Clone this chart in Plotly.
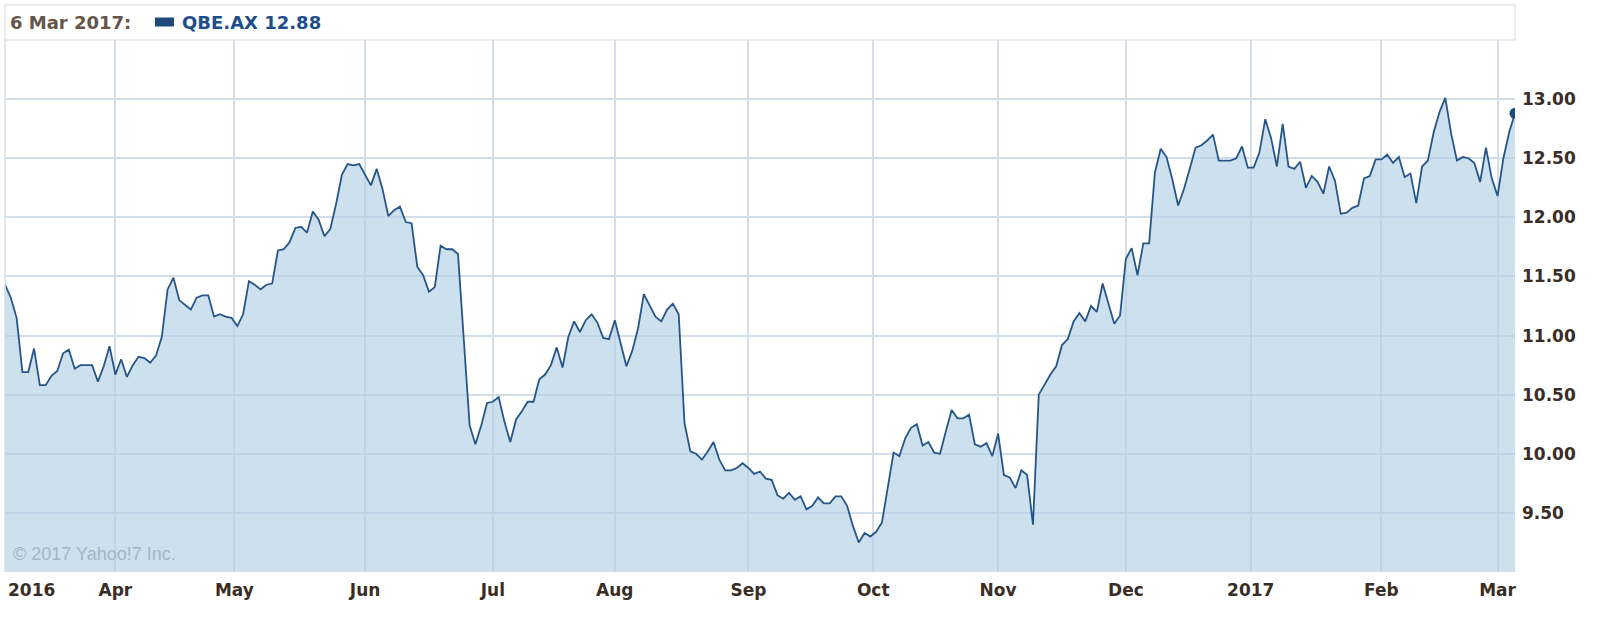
import pandas as pd
import plotly.graph_objects as go

# Daily closes (weekdays), by month
mar16 = [11.43, 11.32, 11.15, 10.69, 10.69, 10.89, 10.58, 10.58, 10.66, 10.70, 10.85, 10.88, 10.72, 10.75, 10.75, 10.75, 10.61, 10.74, 10.91]
apr16 = [10.67, 10.80, 10.65, 10.75, 10.82, 10.81, 10.77, 10.83, 10.99, 11.39, 11.49, 11.30, 11.26, 11.22, 11.32, 11.34, 11.34, 11.16, 11.18, 11.16, 11.15]
may16 = [11.08, 11.18, 11.46, 11.43, 11.39, 11.43, 11.44, 11.72, 11.73, 11.79, 11.91, 11.92, 11.87, 12.05, 11.98, 11.84, 11.90, 12.11, 12.36, 12.45, 12.44, 12.45]
jun16 = [12.36, 12.27, 12.41, 12.24, 12.01, 12.06, 12.09, 11.96, 11.95, 11.58, 11.51, 11.37, 11.41, 11.76, 11.73, 11.73, 11.69, 10.95, 10.24, 10.08, 10.24, 10.43]
jul16 = [10.44, 10.48, 10.27, 10.10, 10.29, 10.36, 10.44, 10.44, 10.63, 10.67, 10.75, 10.90, 10.73, 10.99, 11.12, 11.03, 11.13, 11.18, 11.11, 10.98, 10.97]
aug16 = [11.13, 10.94, 10.74, 10.87, 11.06, 11.35, 11.26, 11.16, 11.12, 11.22, 11.27, 11.18, 10.26, 10.02, 10.00, 9.95, 10.02, 10.10, 9.95, 9.86, 9.86, 9.88, 9.92]
sep16 = [9.88, 9.83, 9.85, 9.79, 9.78, 9.65, 9.62, 9.67, 9.61, 9.64, 9.53, 9.56, 9.63, 9.58, 9.58, 9.64, 9.64, 9.56, 9.39, 9.25, 9.33, 9.30]
oct16 = [9.34, 9.42, 9.72, 10.01, 9.98, 10.13, 10.22, 10.25, 10.07, 10.10, 10.01, 10.00, 10.19, 10.37, 10.30, 10.30, 10.33, 10.08, 10.06, 10.09, 9.98]
nov16 = [10.17, 9.82, 9.80, 9.71, 9.86, 9.82, 9.40, 10.50, 10.59, 10.67, 10.74, 10.92, 10.97, 11.12, 11.19, 11.12, 11.25, 11.20, 11.44, 11.27, 11.10, 11.17]
dec16 = [11.65, 11.74, 11.51, 11.78, 11.78, 12.38, 12.58, 12.51, 12.32, 12.10, 12.24, 12.41, 12.59, 12.61, 12.65, 12.70, 12.48, 12.48, 12.48, 12.50, 12.60, 12.42]
jan17 = [12.42, 12.55, 12.83, 12.67, 12.43, 12.79, 12.43, 12.41, 12.47, 12.25, 12.35, 12.30, 12.20, 12.43, 12.31, 12.03, 12.04, 12.08, 12.10, 12.33, 12.35, 12.49]
feb17 = [12.49, 12.53, 12.46, 12.51, 12.34, 12.37, 12.12, 12.43, 12.48, 12.72, 12.89, 13.01, 12.71, 12.48, 12.51, 12.50, 12.46, 12.30, 12.59, 12.33]
mar17 = [12.18, 12.50, 12.72, 12.88]

start_date = "2016-03-07"
end_date = "2017-03-06"

# Axis ticks (month starts on a weekday axis)
tick_dates = ["2016-04-01", "2016-04-29 12:00", "2016-06-01", "2016-07-01", "2016-08-01",
              "2016-09-01", "2016-09-30 12:00", "2016-11-01", "2016-12-01",
              "2016-12-30 12:00", "2017-02-01", "2017-03-01"]
tick_text = ["Apr", "May", "Jun", "Jul", "Aug", "Sep", "Oct", "Nov", "Dec", "2017", "Feb", "Mar"]
y_ticks = [9.5, 10.0, 10.5, 11.0, 11.5, 12.0, 12.5, 13.0]

closes = (mar16 + apr16 + may16 + jun16 + jul16 + aug16 + sep16 + oct16 +
          nov16 + dec16 + jan17 + feb17 + mar17)
dates = pd.bdate_range(start_date, end_date)
assert len(dates) == len(closes), (len(dates), len(closes))

LINE = "#26558a"
TICK_FONT = dict(family="DejaVu Sans", size=17, color="#3a2d26", weight="bold")

fig = go.Figure()
fig.add_trace(go.Scatter(
    x=dates, y=closes, mode="lines",
    line=dict(color=LINE, width=1.8),
    fill="tozeroy", fillcolor="rgba(181,209,230,0.68)",
    hoverinfo="x+y", showlegend=False,
))
fig.add_trace(go.Scatter(
    x=[dates[-1]], y=[closes[-1]], mode="markers",
    marker=dict(color="#1c4a7c", size=11),
    showlegend=False,
))

fig.update_layout(
    width=1608, height=632,
    margin=dict(l=5, r=93, t=40, b=60),
    paper_bgcolor="white", plot_bgcolor="white",
    xaxis=dict(
        type="date", range=[start_date, end_date],
        rangebreaks=[dict(bounds=["sat", "mon"])],
        tickvals=tick_dates, ticktext=tick_text,
        showgrid=True, gridcolor="#d3dee8", gridwidth=2,
        ticks="", tickfont=TICK_FONT, ticklabelstandoff=6,
        zeroline=False, showline=False,
    ),
    yaxis=dict(
        range=[9.0, 13.5], side="right",
        tickvals=y_ticks, tickformat=".2f",
        showgrid=True, gridcolor="#d3dee8", gridwidth=2,
        ticks="", tickfont=TICK_FONT, ticklabelstandoff=6,
        zeroline=False, showline=False,
    ),
    shapes=[
        dict(type="rect", xref="paper", yref="paper", x0=0, x1=1,
             ysizemode="pixel", yanchor=1, y0=0, y1=35,
             line=dict(color="#d9d9d9", width=1), fillcolor="rgba(0,0,0,0)"),
        dict(type="line", xref="paper", yref="paper", x0=0, x1=0, y0=0, y1=1,
             line=dict(color="#d3dee8", width=1.5)),
        dict(type="rect", xref="paper", yref="paper",
             xsizemode="pixel", xanchor=0, x0=150, x1=169,
             ysizemode="pixel", yanchor=1, y0=13.5, y1=22.5,
             line=dict(width=0), fillcolor="#1f4a7a"),
    ],
    annotations=[
        dict(text="<b>6 Mar 2017:</b>", xref="paper", yref="paper", x=0, y=1,
             xanchor="left", yanchor="middle", xshift=3, yshift=18, showarrow=False,
             font=dict(family="DejaVu Sans", size=18, color="#66564a")),
        dict(text="<b>QBE.AX 12.88</b>", xref="paper", yref="paper", x=0, y=1,
             xanchor="left", yanchor="middle", xshift=175, yshift=18, showarrow=False,
             font=dict(family="DejaVu Sans", size=18, color="#1d4e89")),
        dict(text="<b>2016</b>", xref="paper", yref="paper", x=0, y=0,
             xanchor="left", yanchor="middle", xshift=1, yshift=-18, showarrow=False,
             font=dict(family="DejaVu Sans", size=17, color="#3a2d26")),
        dict(text="© 2017 Yahoo!7 Inc.", xref="paper", yref="paper", x=0, y=0,
             xanchor="left", yanchor="middle", xshift=6, yshift=18, showarrow=False,
             font=dict(family="Liberation Sans", size=18, color="#a5b5c4")),
    ],
)

fig.write_html("out.html", config={"displayModeBar": False},
               post_script="document.body.style.margin='0';")
